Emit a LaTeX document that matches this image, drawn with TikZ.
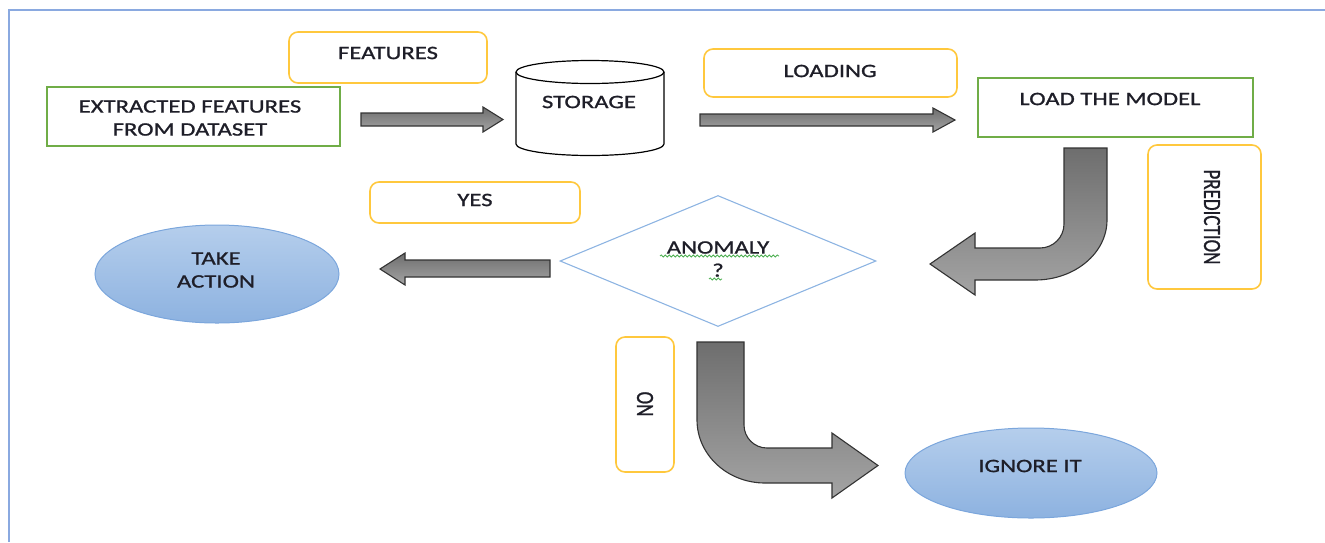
\documentclass[tikz,border=0pt]{standalone}
\usepackage{fontspec}
\setmainfont{Carlito}[FakeStretch=1.3, FakeBold=1]
\newfontfamily\uprightfont{Carlito}[FakeBold=1]
\usetikzlibrary{shapes.geometric,decorations.pathmorphing}

\definecolor{frameblue}{HTML}{8AA9E0}
\definecolor{labelgold}{HTML}{FFC83D}
\definecolor{stepgreen}{HTML}{70AD47}
\definecolor{diamondblue}{HTML}{8DB4E2}
\definecolor{ovaltop}{HTML}{B5CEEC}
\definecolor{ovalbot}{HTML}{8DB2E0}
\definecolor{ovaledge}{HTML}{7BA6DC}
\definecolor{arrowdark}{HTML}{6E6E6E}
\definecolor{arrowlight}{HTML}{A4A4A4}
\definecolor{inkgray}{HTML}{1E1E28}
\definecolor{squiggle}{HTML}{4CAF50}

\begin{document}
\begin{tikzpicture}[x=1pt,y=-1pt,
  font=\fontsize{19}{23}\selectfont, text=inkgray,
  labelbox/.style={draw=labelgold, line width=1.6pt, rounded corners=9pt, fill=white, inner sep=0pt},
  stepbox/.style={draw=stepgreen, line width=1.4pt, fill=white, inner sep=0pt},
  oval/.style={ellipse, draw=ovaledge, line width=1pt, top color=ovaltop, bottom color=ovalbot, inner sep=0pt},
  decision/.style={diamond, draw=diamondblue, line width=1.1pt, inner sep=0pt},
  caption/.style={inner sep=0pt, align=center},
  sidecaption/.style={inner sep=0pt, font=\uprightfont\fontsize{19}{23}\selectfont},
  blockarrow/.style={draw=black!80, line width=1.1pt, top color=arrowdark, bottom color=arrowlight, line join=miter},
  spellmark/.style={draw=squiggle, line width=0.8pt, decorate,
    decoration={snake, segment length=4pt, amplitude=1.1pt}}
]
\useasboundingbox (0,0) rectangle (1325,542);

% page frame (top and left edges)
\draw[frameblue, line width=2.5pt] (9,542) -- (9,10) -- (1325,10);

% ---- top row ----
\node[labelbox, minimum width=198, minimum height=51] (featbox) at (388,57.5) {};
\node[caption] (feattext) at (388,53) {FEATURES};

\node[stepbox, minimum width=293, minimum height=59] (extract) at (193.5,116.5) {};
\node[caption] (extracttext) at (190,118) {EXTRACTED FEATURES\\FROM DATASET};

% storage cylinder
\draw[line width=1.2pt, fill=white] (516,72) -- (516,144)
  arc[start angle=180, end angle=0, x radius=74, y radius=11.5] -- (664,72);
\draw[line width=1.2pt] (590,72) ellipse [x radius=74, y radius=11.5];
\node[caption] (storage) at (589,102) {STORAGE};

\node[labelbox, minimum width=253, minimum height=48] (loadbox) at (830.5,73) {};
\node[caption] (loadtext) at (830,71) {LOADING};

\node[stepbox, minimum width=275, minimum height=59] (model) at (1115.5,107.5) {};
\node[caption] (modeltext) at (1110,99) {LOAD THE MODEL};

\node[labelbox, minimum width=113, minimum height=144] (predbox) at (1204.5,217) {};
\node[sidecaption, rotate=-90] (predtext) at (1212,217) {\scalebox{1}[1.3]{PREDICTION}};

% straight block arrows
\path[blockarrow] (361,113) -- (483,113) -- (483,107) -- (503,119.5) -- (483,132)
  -- (483,126) -- (361,126) -- cycle;
\path[blockarrow] (700,114) -- (933,114) -- (933,108) -- (955,120) -- (933,132)
  -- (933,126) -- (700,126) -- cycle;

% bent arrow from the model down to the decision
\path[blockarrow] (1064,148) -- (1107,148) -- (1107,220)
  arc[start angle=0, end angle=90, x radius=72, y radius=60]
  -- (975,280) -- (975,295) -- (930,264) -- (975,233) -- (975,248) -- (1040,248)
  arc[start angle=90, end angle=0, radius=24] -- cycle;

% ---- middle row ----
\node[decision, minimum width=316, minimum height=131] (anomaly) at (718,261) {};
\node[caption] (anomalytext) at (718,259) {ANOMALY\\?};
\draw[spellmark] (660,256) -- (779,256);
\draw[spellmark] (709,279) -- (722,279);

\node[labelbox, minimum width=210, minimum height=41] (yesbox) at (475,202.5) {};
\node[caption] (yestext) at (475,200) {YES};

\path[blockarrow] (550,260) -- (405,260) -- (405,253) -- (380,269) -- (405,285)
  -- (405,277) -- (550,277) -- cycle;

\node[oval, minimum width=244, minimum height=98] (action) at (217,274) {};
\node[caption] (actiontext) at (216,270) {TAKE\\ACTION};

% ---- bottom row ----
\node[labelbox, minimum width=58, minimum height=135] (nobox) at (645,404.5) {};
\node[sidecaption, rotate=90] (notext) at (645,404) {\scalebox{1}[1.3]{NO}};

\path[blockarrow] (697,342) -- (744,342) -- (744,425)
  arc[start angle=180, end angle=90, radius=23]
  -- (832,448) -- (832,433) -- (878,465.5) -- (832,498) -- (832,483) -- (765,483)
  arc[start angle=90, end angle=180, x radius=68, y radius=63] -- cycle;

\node[oval, minimum width=252, minimum height=90] (ignore) at (1031,473) {};
\node[caption] (ignoretext) at (1030,466) {IGNORE IT};
\end{tikzpicture}
\end{document}
